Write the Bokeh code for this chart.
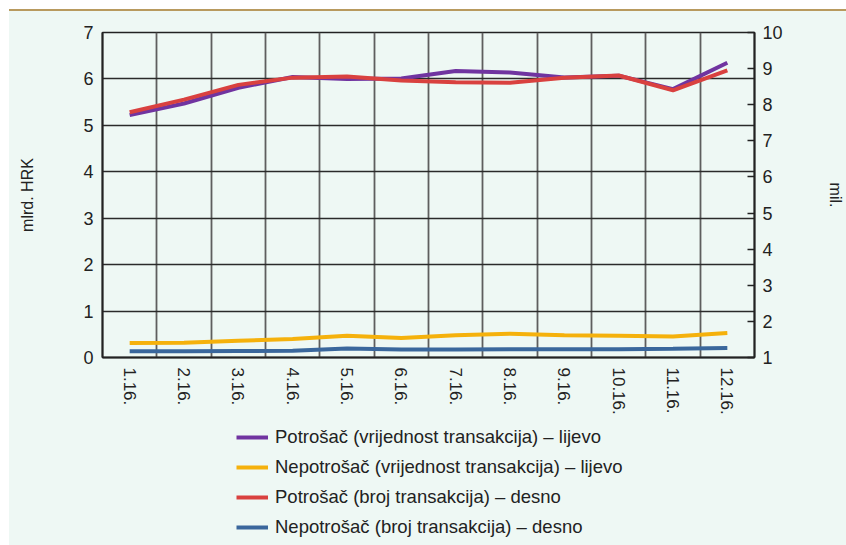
from math import pi
from bokeh.plotting import figure
from bokeh.models import (Range1d, LinearAxis, FixedTicker, Legend, LegendItem,
                          Div, ColumnDataSource)
from bokeh.layouts import column
from bokeh.embed import file_html
from bokeh.resources import INLINE

# ---- data ----
months = ["1.16.", "2.16.", "3.16.", "4.16.", "5.16.", "6.16.",
          "7.16.", "8.16.", "9.16.", "10.16.", "11.16.", "12.16."]
potrosac_vrijednost = [5.22, 5.47, 5.81, 6.04, 6.00, 6.01, 6.17, 6.14, 6.03, 6.07, 5.78, 6.35]
nepotrosac_vrijednost = [0.31, 0.32, 0.36, 0.40, 0.47, 0.42, 0.48, 0.51, 0.48, 0.47, 0.45, 0.53]
potrosac_broj = [7.79, 8.14, 8.55, 8.75, 8.78, 8.67, 8.62, 8.61, 8.75, 8.81, 8.40, 8.95]
nepotrosac_broj = [1.17, 1.17, 1.18, 1.19, 1.25, 1.22, 1.22, 1.23, 1.23, 1.23, 1.24, 1.26]
left_ticks = [0, 1, 2, 3, 4, 5, 6, 7]
right_ticks = [1, 2, 3, 4, 5, 6, 7, 8, 9, 10]
legend_labels = ["Potrošač (vrijednost transakcija) – lijevo",
                 "Nepotrošač (vrijednost transakcija) – lijevo",
                 "Potrošač (broj transakcija) – desno",
                 "Nepotrošač (broj transakcija) – desno"]
series_colors = ["#7034a0", "#f5b10c", "#d9413f", "#3a679c"]

FONT = "Liberation Sans"
BG = "#eef8f4"
INK = "#222222"

xs = list(range(1, len(months) + 1))
src = ColumnDataSource(dict(x=xs, pv=potrosac_vrijednost, nv=nepotrosac_vrijednost,
                            pb=potrosac_broj, nb=nepotrosac_broj))

p = figure(width=837, height=409, output_backend="svg", toolbar_location=None,
           x_range=Range1d(0.5, len(months) + 0.5), y_range=Range1d(left_ticks[0], left_ticks[-1]),
           min_border_left=93, min_border_right=89, min_border_top=21, min_border_bottom=63)
p.extra_y_ranges = {"right": Range1d(right_ticks[0], right_ticks[-1])}
p.background_fill_color = BG
p.border_fill_color = BG
p.outline_line_color = INK
p.outline_line_width = 1.5

# grids
p.xgrid.ticker = FixedTicker(ticks=[x + 0.5 for x in xs[:-1]])
p.xgrid.grid_line_color = "#5e5e5e"
p.xgrid.grid_line_width = 1.8
p.ygrid.ticker = FixedTicker(ticks=left_ticks)
p.ygrid.grid_line_color = "#2a2a2a"
p.ygrid.grid_line_width = 1.3

# x axis
xa = p.xaxis[0]
xa.ticker = FixedTicker(ticks=xs)
xa.major_label_overrides = {x: m for x, m in zip(xs, months)}
xa.major_label_orientation = "vertical"
xa.major_label_text_font = FONT
xa.major_label_text_font_size = "17px"
xa.major_label_text_color = INK
xa.major_label_standoff = 10
xa.major_tick_out = 0
xa.major_tick_in = 0
xa.minor_tick_out = 0
xa.minor_tick_in = 0
xa.axis_line_color = INK
xa.axis_line_width = 2

# left axis
ya = p.yaxis[0]
ya.ticker = FixedTicker(ticks=left_ticks)
ya.major_label_text_font = FONT
ya.major_label_text_font_size = "18px"
ya.major_label_text_color = INK
ya.major_label_standoff = 9
ya.major_tick_out = 0
ya.major_tick_in = 0
ya.minor_tick_out = 0
ya.minor_tick_in = 0
ya.axis_line_color = INK
ya.axis_line_width = 2
ya.axis_label = "mlrd. HRK"
ya.axis_label_text_font = FONT
ya.axis_label_text_font_size = "16px"
ya.axis_label_text_font_style = "normal"
ya.axis_label_text_color = INK
ya.axis_label_standoff = 44

# right axis
ra = LinearAxis(y_range_name="right", ticker=FixedTicker(ticks=right_ticks))
ra.major_label_text_font = FONT
ra.major_label_text_font_size = "18px"
ra.major_label_text_color = INK
ra.major_label_standoff = 8
ra.major_tick_out = 0
ra.major_tick_in = 7
ra.major_tick_line_color = INK
ra.major_tick_line_width = 1.3
ra.minor_tick_out = 0
ra.minor_tick_in = 0
ra.axis_line_color = INK
ra.axis_line_width = 2
ra.axis_label = "mil."
ra.axis_label_text_font = FONT
ra.axis_label_text_font_size = "16px"
ra.axis_label_text_font_style = "normal"
ra.axis_label_text_color = INK
ra.axis_label_standoff = 41
p.add_layout(ra, "right")

# lines
p.line("x", "pv", source=src, line_color=series_colors[0], line_width=4)
p.line("x", "nv", source=src, line_color=series_colors[1], line_width=4)
p.line("x", "pb", source=src, y_range_name="right", line_color=series_colors[2], line_width=4)
p.line("x", "nb", source=src, y_range_name="right", line_color=series_colors[3], line_width=4)

# legend panel (separate figure below the chart, frames aligned with the chart)
lg = figure(width=837, height=125, output_backend="svg", toolbar_location=None,
            x_range=Range1d(0, 1), y_range=Range1d(0, 1),
            x_axis_location=None, y_axis_location=None,
            min_border_left=93, min_border_right=89, min_border_top=0, min_border_bottom=0)
lg.background_fill_color = BG
lg.border_fill_color = BG
lg.outline_line_color = None
lg.xgrid.visible = False
lg.ygrid.visible = False
nan = float("nan")
items = []
for lab, col in zip(legend_labels, series_colors):
    rr = lg.line(x=[nan, nan], y=[nan, nan], line_color=col, line_width=4)
    items.append(LegendItem(label=lab, renderers=[rr]))
legend = Legend(items=items, location=(134, 3))
legend.label_text_font = FONT
legend.label_text_font_size = "18.5px"
legend.label_text_color = INK
legend.glyph_width = 32
legend.glyph_height = 30
legend.label_height = 30
legend.label_standoff = 7
legend.spacing = 0
legend.padding = 0
legend.margin = 0
legend.border_line_alpha = 0
legend.background_fill_alpha = 0
lg.add_layout(legend, "center")

top = Div(text="", width=837, height=2, margin=(9, 0, 0, 9),
          styles={"background-color": "#b89a5e"})

body = column(p, lg, spacing=0, margin=(0, 0, 0, 9),
              styles={"background-color": BG})
layout = column(top, body, spacing=0)
open("out.html", "w").write(file_html(layout, INLINE))
